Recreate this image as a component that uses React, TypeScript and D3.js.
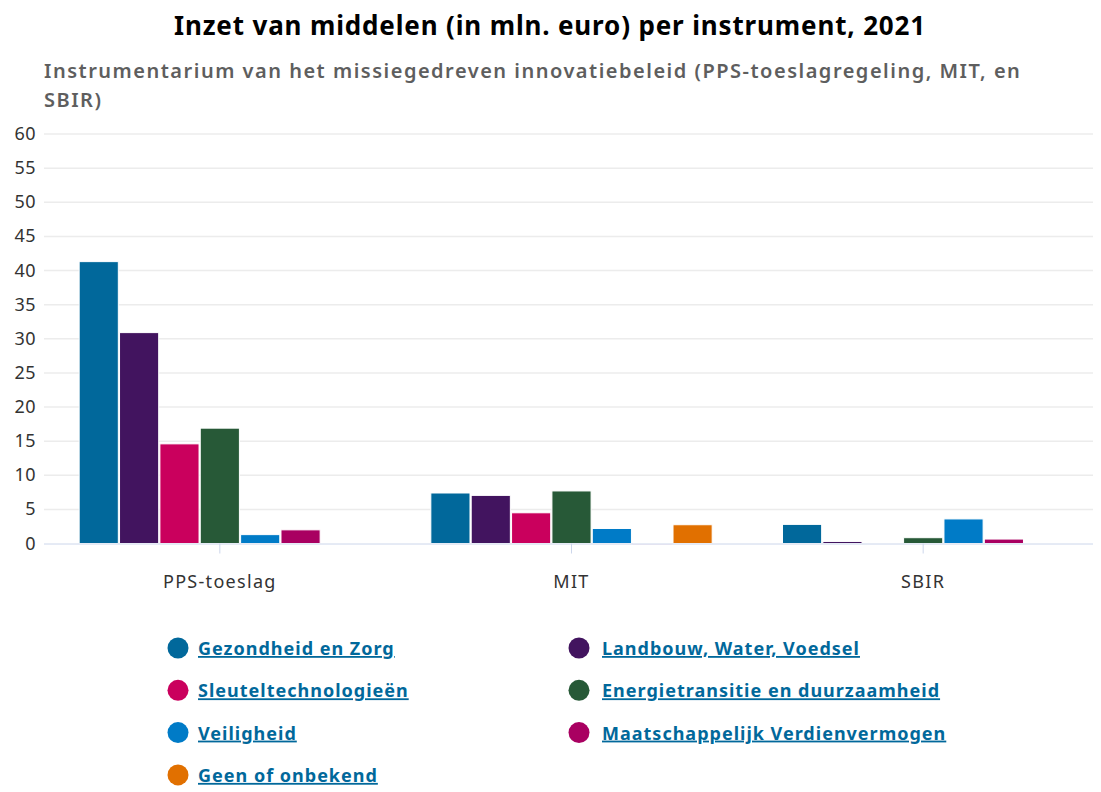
import { useEffect, useRef } from 'react';
import * as d3 from 'd3';

const categories = ['PPS-toeslag', 'MIT', 'SBIR'];
const seriesNames = [
  'Gezondheid en Zorg',
  'Landbouw, Water, Voedsel',
  'Sleuteltechnologieën',
  'Energietransitie en duurzaamheid',
  'Veiligheid',
  'Maatschappelijk Verdienvermogen',
  'Geen of onbekend',
];
const seriesColors = ['#01689b', '#42145f', '#ca005d', '#275937', '#007bc7', '#a90061', '#e17000'];

// values per series, in order of categories
const gezondheid = [41.3, 7.4, 2.8];
const landbouw = [30.9, 7.05, 0.3];
const sleutel = [14.6, 4.5, 0];
const energie = [16.9, 7.7, 0.85];
const veiligheid = [1.3, 2.2, 3.6];
const maatschappelijk = [2.0, 0.05, 0.65];
const geen = [0, 2.75, 0];

const seriesValues = [gezondheid, landbouw, sleutel, energie, veiligheid, maatschappelijk, geen];
const yTicks = [0, 5, 10, 15, 20, 25, 30, 35, 40, 45, 50, 55, 60];

const title = 'Inzet van middelen (in mln. euro) per instrument, 2021';
const subtitleLines = [
  'Instrumentarium van het missiegedreven innovatiebeleid (PPS-toeslagregeling, MIT, en',
  'SBIR)',
];

const W = 1101;
const H = 792;
const FONT = '"Noto Sans", "Open Sans", sans-serif';

export default function App() {
  const svgRef = useRef<SVGSVGElement>(null);

  useEffect(() => {
    if (!svgRef.current) return;
    const svg = d3.select(svgRef.current);
    svg.selectAll('*').remove();
    svg.attr('width', W).attr('height', H).style('font-family', FONT);

    const plot = { left: 44, right: 1099, top: 134, bottom: 543.5 };

    svg.append('text')
      .attr('x', 550).attr('y', 35)
      .attr('text-anchor', 'middle')
      .attr('font-size', 26).attr('font-weight', 700).attr('fill', '#000')
      .attr('letter-spacing', 0.85)
      .text(title);

    svg.append('g').selectAll('text')
      .data(subtitleLines)
      .join('text')
      .attr('x', 44).attr('y', (d, i) => 78 + i * 29)
      .attr('font-size', 20).attr('font-weight', 600).attr('fill', '#5e5e5e')
      .attr('letter-spacing', 1.5)
      .text(d => d);

    const y = d3.scaleLinear().domain([0, 60]).range([plot.bottom, plot.top]);
    const x0 = d3.scaleBand<string>()
      .domain(categories)
      .range([plot.left, plot.right])
      .paddingInner(0.2)
      .paddingOuter(0.1);
    const x1 = d3.scaleBand<number>()
      .domain(d3.range(seriesNames.length))
      .range([0, x0.bandwidth()])
      .paddingInner(0.03);

    // grid
    svg.append('g').selectAll('line')
      .data(yTicks.filter(t => t > 0))
      .join('line')
      .attr('x1', plot.left).attr('x2', plot.right)
      .attr('y1', d => y(d)).attr('y2', d => y(d))
      .attr('stroke', '#ececec').attr('stroke-width', 1.5);

    svg.append('g').selectAll('text')
      .data(yTicks)
      .join('text')
      .attr('x', 36).attr('y', d => y(d) + 6)
      .attr('text-anchor', 'end')
      .attr('font-size', 18).attr('fill', '#333')
      .attr('letter-spacing', 0.5)
      .text(d => d);

    // bars
    const groups = svg.append('g').selectAll('g')
      .data(categories)
      .join('g')
      .attr('transform', d => `translate(${x0(d)},0)`);

    groups.selectAll('rect')
      .data((c, ci) => seriesValues.map((vals, si) => ({ si, v: vals[ci] })).filter(d => d.v > 0))
      .join('rect')
      .attr('x', d => x1(d.si)!)
      .attr('width', x1.bandwidth())
      .attr('y', d => y(d.v))
      .attr('height', d => Math.max(1, plot.bottom - y(d.v)))
      .attr('fill', d => seriesColors[d.si])
      .attr('stroke', '#fff').attr('stroke-width', 1);

    // x axis
    svg.append('line')
      .attr('x1', plot.left).attr('x2', plot.right)
      .attr('y1', plot.bottom + 0.5).attr('y2', plot.bottom + 0.5)
      .attr('stroke', '#ccd6eb');

    svg.append('g').selectAll('line')
      .data(categories)
      .join('line')
      .attr('x1', d => x0(d)! + x0.bandwidth() / 2).attr('x2', d => x0(d)! + x0.bandwidth() / 2)
      .attr('y1', plot.bottom).attr('y2', plot.bottom + 10)
      .attr('stroke', '#ccd6eb');

    svg.append('g').selectAll('text')
      .data(categories)
      .join('text')
      .attr('x', d => x0(d)! + x0.bandwidth() / 2)
      .attr('y', 588)
      .attr('text-anchor', 'middle')
      .attr('font-size', 18).attr('fill', '#333')
      .attr('letter-spacing', 1.3)
      .text(d => d);

    // legend
    const legend = svg.append('g').selectAll('g')
      .data(seriesNames)
      .join('g')
      .attr('transform', (d, i) => `translate(${i % 2 === 0 ? 178 : 579},${648 + Math.floor(i / 2) * 42.3})`);

    legend.append('circle')
      .attr('r', 10.5)
      .attr('fill', (d, i) => seriesColors[i]);

    legend.append('text')
      .attr('x', (d, i) => (i % 2 === 0 ? 20 : 23)).attr('y', 7)
      .attr('font-size', 18).attr('font-weight', 700)
      .attr('fill', '#01689b')
      .attr('letter-spacing', 1)
      .attr('text-decoration', 'underline')
      .text(d => d);
  }, []);

  return (
    <div style={{ margin: -8 }}>
      <svg ref={svgRef} />
    </div>
  );
}
